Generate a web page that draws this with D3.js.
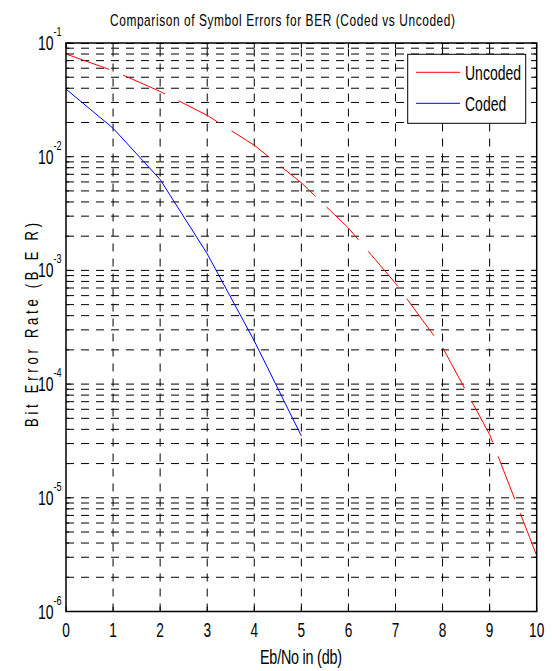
<!DOCTYPE html>
<html>
<head>
<meta charset="utf-8">
<script src="https://cdn.jsdelivr.net/npm/d3@7"></script>
<style>
  body { margin: 0; background: #fff; }
  text { font-family: "Liberation Sans", Arial, sans-serif; fill: #000; }
</style>
</head>
<body>
<div id="chart"></div>
<script>
// data
var ebnoUncoded = [0, 1, 2, 3, 4, 5, 6, 7, 8, 9, 10];
var berUncoded = [0.080, 0.057, 0.0375, 0.0231, 0.0126, 0.0059, 0.00236, 7.7e-4, 2.1e-4, 3.6e-5, 3.1e-6];
var ebnoCoded = [0, 1, 2, 3, 4, 5];
var berCoded = [0.0393, 0.0178, 0.0063, 0.0014, 2.4e-4, 3.5e-5];
var xTicks = [0, 1, 2, 3, 4, 5, 6, 7, 8, 9, 10];
var yExps = [-1, -2, -3, -4, -5, -6];
var seriesNames = ["Uncoded", "Coded"];
var seriesColors = ["#ff0000", "#0000ff"];

var width = 552, height = 671;
var sx = 0.7; // narrow font squeeze

var svg = d3.select("#chart").append("svg")
  .attr("width", width).attr("height", height);

var x = d3.scaleLinear().domain([0, 10]).range([66, 536.7]);
var y = d3.scaleLog().domain([1e-6, 1e-1]).range([611.5, 43]);

// text helper, squeezes glyphs to mimic the narrow font
function label(str, px, py, size, anchor, len, rot) {
  var t = svg.append("text")
    .attr("transform", "translate(" + px + "," + py + ")" + (rot ? " rotate(-90)" : "") + " scale(" + sx + ",1)")
    .attr("font-size", size)
    .attr("text-anchor", anchor)
    .text(str);
  if (len) t.attr("textLength", len / sx).attr("lengthAdjust", "spacing");
  return t;
}

// grid
var grid = svg.append("g")
  .attr("stroke", "#000").attr("stroke-width", 1)
  .attr("stroke-dasharray", "8,7").attr("fill", "none");

xTicks.slice(1, -1).forEach(function(d) {
  grid.append("line").attr("x1", x(d)).attr("x2", x(d)).attr("y1", y(1e-6)).attr("y2", y(1e-1));
});

var yGrid = [];
for (var e = -6; e < -1; e++) {
  for (var m = 1; m <= 9; m++) yGrid.push(m * Math.pow(10, e));
}
yGrid.push(1e-1);
yGrid.filter(function(v) { return v > 1.01e-6 && v < 0.099; }).forEach(function(v) {
  grid.append("line").attr("x1", x(0)).attr("x2", x(10)).attr("y1", y(v)).attr("y2", y(v));
});
grid.append("line").attr("x1", x(0)).attr("x2", x(10)).attr("y1", y(1e-1) + 0.5).attr("y2", y(1e-1) + 0.5);

// ticks
var ticks = svg.append("g").attr("stroke", "#000").attr("stroke-width", 1);
xTicks.forEach(function(d) {
  ticks.append("line").attr("x1", x(d)).attr("x2", x(d)).attr("y1", y(1e-6)).attr("y2", y(1e-6) - 5);
  ticks.append("line").attr("x1", x(d)).attr("x2", x(d)).attr("y1", y(1e-1)).attr("y2", y(1e-1) + 5);
});
yGrid.forEach(function(v) {
  var len = Math.abs(Math.log10(v) - Math.round(Math.log10(v))) < 1e-6 ? 5 : 3;
  ticks.append("line").attr("x1", x(0)).attr("x2", x(0) + len).attr("y1", y(v)).attr("y2", y(v));
  ticks.append("line").attr("x1", x(10)).attr("x2", x(10) - len).attr("y1", y(v)).attr("y2", y(v));
});

// curves
var line = d3.line()
  .x(function(d) { return x(d[0]); })
  .y(function(d) { return y(d[1]); });

svg.append("path")
  .datum(d3.zip(ebnoUncoded, berUncoded))
  .attr("d", line).attr("fill", "none")
  .attr("stroke", seriesColors[0]).attr("stroke-width", 1)
  .attr("stroke-dasharray", "46,15");

svg.append("path")
  .datum(d3.zip(ebnoCoded, berCoded))
  .attr("d", line).attr("fill", "none")
  .attr("stroke", seriesColors[1]).attr("stroke-width", 1);

// frame
svg.append("rect")
  .attr("x", x(0)).attr("y", y(1e-1))
  .attr("width", x(10) - x(0)).attr("height", y(1e-6) - y(1e-1))
  .attr("fill", "none").attr("stroke", "#000").attr("stroke-width", 1.5);

// tick labels
xTicks.forEach(function(d) {
  label(String(d), x(d), 637, 19.5, "middle");
});
yExps.forEach(function(e) {
  var t = label("10", 53.5, y(Math.pow(10, e)) + 7, 20, "end");
  svg.append("text")
    .attr("transform", "translate(53.5," + (y(Math.pow(10, e)) - 7) + ") scale(" + sx + ",1)")
    .attr("font-size", 13).attr("text-anchor", "start")
    .text(String(e));
});

// titles
label("Comparison of Symbol Errors for BER (Coded vs Uncoded)", 282.5, 26, 17, "middle", 345);
label("Eb/No in (db)", 301, 664, 20.5, "middle", 82);
label("Bit Error Rate (B E R)", 38, 325, 18.6, "middle", 204, true);

// legend
var lg = svg.append("g");
lg.append("rect")
  .attr("x", 407.7).attr("y", 54.3).attr("width", 118).attr("height", 69)
  .attr("fill", "#fff").attr("stroke", "#000").attr("stroke-width", 1);
seriesNames.forEach(function(name, i) {
  var ly = 72.3 + i * 31;
  lg.append("line").attr("x1", 416).attr("x2", 460).attr("y1", ly).attr("y2", ly)
    .attr("stroke", seriesColors[i]).attr("stroke-width", 1);
  label(name, 465, ly + 7.3, 20, "start");
});
</script>
</body>
</html>
